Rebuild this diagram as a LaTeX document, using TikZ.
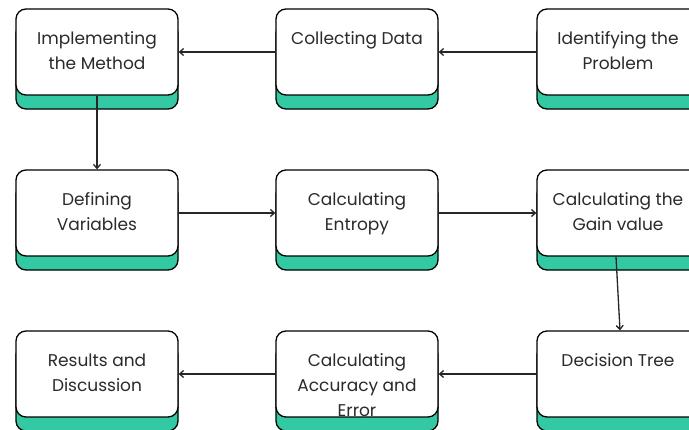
\documentclass[tikz,border=0pt]{standalone}
\usepackage{fontspec}
\setmainfont{Poppins}
\usetikzlibrary{arrows.meta,positioning,shadows}

\definecolor{bandteal}{HTML}{33C9A3}
\definecolor{inkgray}{HTML}{2A2A2A}

\begin{document}
\begin{tikzpicture}[x=1pt,y=1pt,>={Straight Barb[length=4pt,width=7pt]},
 stepbox/.style={draw=black,line width=1.3pt,rounded corners=10pt,fill=white,
  minimum width=162pt,minimum height=86pt,
  general shadow={shadow xshift=0pt,shadow yshift=-14pt,fill=bandteal,draw=black,line width=1.3pt}},
 steptext/.style={anchor=north,align=center,font=\fontsize{17}{25}\selectfont,
  text=inkgray,inner sep=0pt},
 flow/.style={->,line width=1.3pt,draw=black!85}]
\useasboundingbox (0,0) rectangle (689,-429);

% first row
\node[stepbox] (impl) at (97,-52) {};
\node[stepbox] (coll) at (357,-52) {};
\node[stepbox] (iden) at (618,-52) {};
% second row
\node[stepbox] (defv) at (97,-213) {};
\node[stepbox] (entr) at (357,-213) {};
\node[stepbox] (gain) at (618,-213) {};
% third row
\node[stepbox] (resu) at (97,-374) {};
\node[stepbox] (accu) at (357,-374) {};
\node[stepbox] (dtre) at (618,-374) {};

% labels sit near the top of each box
\node[steptext,below=23pt of impl.north] (impl-t) {Implementing\\the Method};
\node[steptext,below=23pt of coll.north] (coll-t) {Collecting Data};
\node[steptext,below=23pt of iden.north] (iden-t) {Identifying the\\Problem};
\node[steptext,below=23pt of defv.north] (defv-t) {Defining\\Variables};
\node[steptext,below=23pt of entr.north] (entr-t) {Calculating\\Entropy};
\node[steptext,below=23pt of gain.north] (gain-t) {Calculating the\\Gain value};
\node[steptext,below=23pt of resu.north] (resu-t) {Results and\\Discussion};
\node[steptext,below=23pt of accu.north] (accu-t) {Calculating\\Accuracy and\\Error};
\node[steptext,below=23pt of dtre.north] (dtre-t) {Decision Tree};

\draw[flow] (iden) -- (coll);
\draw[flow] (coll) -- (impl);
\draw[flow] (impl.south) -- (defv.north);
\draw[flow] (defv) -- (entr);
\draw[flow] (entr) -- (gain);
\draw[flow] ([xshift=-2pt]gain.south) -- ([xshift=2pt]dtre.north);
\draw[flow] (dtre) -- (accu);
\draw[flow] (accu) -- (resu);
\end{tikzpicture}
\end{document}
